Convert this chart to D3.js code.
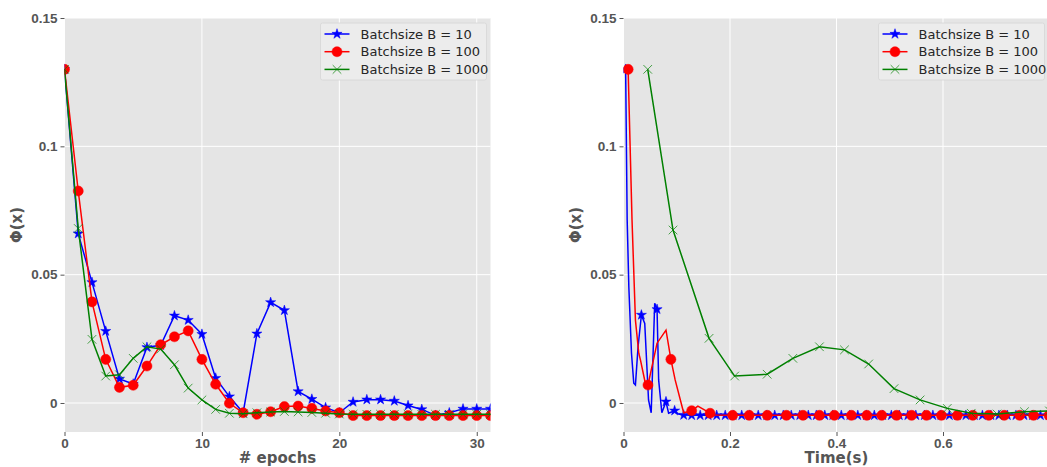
<!DOCTYPE html>
<html>
<head>
<meta charset="utf-8">
<script src="https://cdn.jsdelivr.net/npm/d3@7"></script>
<style>
  body { margin: 0; background: #fff; }
  svg { font-family: "DejaVu Sans", sans-serif; }
  .tick text { font-size: 13.5px; font-weight: bold; fill: #555; }
  .tick line { stroke: #555; }
</style>
</head>
<body>
<div id="chart"></div>
<script>
/*
 *  DATA
 */
var epochs = [0,1,2,3,4,5,6,7,8,9,10,11,12,13,14,15,16,17,18,19,20,21,22,23,24,25,26,27,28,29,30,31];
var epochB10 = [0.130, 0.066, 0.047, 0.028, 0.0094, 0.0074, 0.0217, 0.0225, 0.034, 0.0323, 0.0268, 0.0097,
    0.0025, -0.0038, 0.027, 0.0392, 0.0361, 0.0045, 0.0015, -0.0018, -0.0038, 0.0004, 0.0013, 0.0013,
    0.0008, -0.001, -0.0025, -0.0048, -0.0038, -0.0023, -0.0023, -0.0023];
var epochB100 = [0.130, 0.0826, 0.0394, 0.017, 0.0061, 0.0069, 0.0144, 0.0227, 0.0258, 0.0281, 0.017, 0.0073,
    -0.0001, -0.0038, -0.0044, -0.0034, -0.0014, -0.0012, -0.0021, -0.0031, -0.0038, -0.0049, -0.0049, -0.0049,
    -0.0049, -0.0049, -0.0049, -0.0049, -0.0049, -0.0049, -0.0049, -0.0049];
var epochB1000 = [0.130, 0.068, 0.0248, 0.0105, 0.011, 0.0174, 0.0219, 0.021, 0.0149, 0.0058, 0.0012, -0.0025,
    -0.004, -0.0042, -0.0038, -0.0035, -0.0033, -0.0035, -0.0037, -0.004, -0.0043, -0.0044, -0.0044, -0.0044,
    -0.0044, -0.0044, -0.0044, -0.0044, -0.0044, -0.0044, -0.0044, -0.0044];

// time plot: B = 10
var timeB10 = [0.004, 0.0069, 0.010, 0.015, 0.0193, 0.0224, 0.0274, 0.0336, 0.0399, 0.047, 0.052, 0.0586, 0.063,
    0.066, 0.072, 0.0798, 0.0847, 0.096, 0.103, 0.113, 0.128, 0.144, 0.159, 0.175, 0.191, 0.206, 0.222, 0.237,
    0.253, 0.269, 0.284, 0.300, 0.315, 0.331, 0.347, 0.362, 0.378, 0.393, 0.409, 0.425, 0.440, 0.456, 0.471,
    0.487, 0.503, 0.518, 0.534, 0.549, 0.565, 0.581, 0.596, 0.612, 0.627, 0.643, 0.659, 0.674, 0.690, 0.705,
    0.721, 0.737, 0.752, 0.768, 0.783, 0.799];
var valB10 = [0.130, 0.0713, 0.0453, 0.0194, 0.0077, 0.007, 0.022, 0.0343, 0.031, 0.0012, -0.0038, 0.0389, 0.0365,
    0.009, -0.0038, 0.0005, -0.004, -0.003, -0.0043, -0.0047, -0.0048, -0.0048, -0.0048, -0.0048, -0.0048,
    -0.0048, -0.0048, -0.0048, -0.0048, -0.0048, -0.0048, -0.0048, -0.0048, -0.0048, -0.0048, -0.0048, -0.0048,
    -0.0048, -0.0048, -0.0048, -0.0048, -0.0048, -0.0048, -0.0048, -0.0048, -0.0048, -0.0048, -0.0048, -0.0048,
    -0.0048, -0.0048, -0.0048, -0.0048, -0.0048, -0.0048, -0.0048, -0.0048, -0.0048, -0.0048, -0.0048, -0.0048,
    -0.0048, -0.0048, -0.0048];
var markB10 = [0, 7, 12, 15, 17, 19, 20, 21, 22, 23, 24, 25, 26, 27, 28, 29, 30, 31, 32, 33, 34, 35, 36, 37, 38,
    39, 40, 41, 42, 43, 44, 45, 46, 47, 48, 49, 50, 51, 52, 53, 54, 55, 56, 57, 58, 59, 60, 61, 62, 63];

// time plot: B = 100
var timeB100 = [0.0087, 0.016, 0.0224, 0.0287, 0.0318, 0.041, 0.046, 0.063, 0.0798, 0.089, 0.097, 0.113, 0.128,
    0.1396, 0.152, 0.1626, 0.172, 0.205, 0.236, 0.270, 0.306, 0.337, 0.368, 0.396, 0.428, 0.457, 0.485, 0.513,
    0.541, 0.569, 0.597, 0.627, 0.656, 0.686, 0.715, 0.744, 0.770, 0.799];
var valB100 = [0.130, 0.0713, 0.0323, 0.0194, 0.0168, 0.0077, 0.007, 0.0233, 0.0284, 0.017, 0.009, -0.0038, -0.003,
    -0.0012, -0.0027, -0.004, -0.0047, -0.0048, -0.0048, -0.0048, -0.0048, -0.0048, -0.0048, -0.0048, -0.0048,
    -0.0048, -0.0048, -0.0048, -0.0048, -0.0048, -0.0048, -0.0048, -0.0048, -0.0048, -0.0048, -0.0048, -0.0048,
    -0.0048];
var markB100 = [0, 6, 9, 12, 15, 17, 18, 19, 20, 21, 22, 23, 24, 25, 26, 27, 28, 29, 30, 31, 32, 33, 34, 35, 36, 37];

// time plot: B = 1000
var timeB1000 = [0.0455, 0.093, 0.1607, 0.2087, 0.2698, 0.318, 0.368, 0.415, 0.4604, 0.508, 0.557, 0.608, 0.653,
    0.7015, 0.753, 0.80];
var valB1000 = [0.130, 0.0674, 0.0252, 0.0105, 0.0112, 0.0174, 0.0219, 0.0207, 0.0152, 0.0056, 0.0012, -0.0021,
    -0.004, -0.0043, -0.0034, -0.0031];

var yTicks = [0, 0.05, 0.1, 0.15];
var yTickLabels = ["0", "0.05", "0.1", "0.15"];
var epochTicks = [0, 10, 20, 30];
var timeTicks = [0, 0.2, 0.4, 0.6];
var timeTickLabels = ["0", "0.2", "0.4", "0.6"];
var legendLabels = ["Batchsize B = 10", "Batchsize B = 100", "Batchsize B = 1000"];
var colors = ["#0000ff", "#ff0000", "#008000"];

/*
 *  LAYOUT
 */
var svg = d3.select("#chart").append("svg")
    .attr("width", 1047)
    .attr("height", 467);

var plotTop = 18, plotBottom = 432, plotW = 426;

var y_scale = d3.scaleLinear()
    .domain([-0.0113, 0.15])
    .range([plotBottom, plotTop]);

var symbols = [d3.symbolStar, d3.symbolCircle, d3.symbolX];
var symSize = [32, 80, 50];

function drawMarker(g, k, x, y) {
    var p = g.append("path")
        .attr("d", d3.symbol().type(symbols[k]).size(symSize[k])())
        .attr("transform", "translate(" + x + "," + y + ")");
    if (k == 2) {
        p.attr("fill", "none").attr("stroke", colors[k]).attr("stroke-width", 1).attr("stroke-opacity", 0.7);
    } else {
        p.attr("fill", colors[k]).attr("stroke", colors[k]).attr("stroke-width", 0.5);
    }
}

function panel(id, left, x_scale, xTicks, xLabels, xTitle, series, legendX) {
    var g = svg.append("g").attr("transform", "translate(" + left + ",0)");

    g.append("rect")
        .attr("x", 0).attr("y", plotTop)
        .attr("width", plotW).attr("height", plotBottom - plotTop)
        .attr("fill", "#e5e5e5");

    g.append("clipPath").attr("id", "clip" + id)
        .append("rect")
        .attr("x", 0).attr("y", plotTop)
        .attr("width", plotW).attr("height", plotBottom - plotTop);

    // grid
    g.selectAll(".vgrid").data(xTicks).enter().append("line")
        .attr("x1", function(d) { return x_scale(d); })
        .attr("x2", function(d) { return x_scale(d); })
        .attr("y1", plotTop).attr("y2", plotBottom)
        .attr("stroke", "#fff").attr("stroke-width", 1);
    g.selectAll(".hgrid").data(yTicks).enter().append("line")
        .attr("x1", 0).attr("x2", plotW)
        .attr("y1", function(d) { return y_scale(d); })
        .attr("y2", function(d) { return y_scale(d); })
        .attr("stroke", "#fff").attr("stroke-width", 1);

    // axes
    g.append("g")
        .attr("transform", "translate(0," + plotBottom + ")")
        .call(d3.axisBottom(x_scale).tickValues(xTicks).tickSize(4).tickPadding(2)
            .tickFormat(function(d, i) { return xLabels[i]; }))
        .call(function(a) { a.select(".domain").remove(); });
    g.append("g")
        .call(d3.axisLeft(y_scale).tickValues(yTicks).tickSize(4).tickPadding(3)
            .tickFormat(function(d, i) { return yTickLabels[i]; }))
        .call(function(a) { a.select(".domain").remove(); });

    g.append("text")
        .attr("x", plotW / 2).attr("y", 463)
        .attr("text-anchor", "middle")
        .style("font-size", "15px").style("font-weight", "bold").style("fill", "#555")
        .text(xTitle);
    g.append("text")
        .attr("transform", "translate(" + (-43) + "," + ((plotTop + plotBottom) / 2) + ")rotate(-90)")
        .attr("text-anchor", "middle")
        .style("font-size", "15px").style("font-weight", "bold").style("fill", "#555")
        .text("Φ(x)");

    // lines and markers
    var data_g = g.append("g").attr("clip-path", "url(#clip" + id + ")");
    series.forEach(function(s, k) {
        var pts = s.x.map(function(d, i) { return [x_scale(d), y_scale(s.y[i])]; });
        data_g.append("path")
            .attr("d", d3.line()(pts))
            .attr("fill", "none")
            .attr("stroke", colors[k])
            .attr("stroke-width", 1.5);
        var idx = s.mark ? s.mark : pts.map(function(d, i) { return i; });
        idx.forEach(function(i) { drawMarker(data_g, k, pts[i][0], pts[i][1]); });
    });

    // legend
    var lg = g.append("g").attr("transform", "translate(" + legendX + ",23)");
    lg.append("rect")
        .attr("width", 166).attr("height", 57).attr("rx", 2)
        .attr("fill", "#ececec").attr("stroke", "#d6d6d6").attr("stroke-width", 0.8);
    legendLabels.forEach(function(lab, k) {
        var yy = 11 + k * 17.7;
        lg.append("line")
            .attr("x1", 4).attr("x2", 29).attr("y1", yy).attr("y2", yy)
            .attr("stroke", colors[k]).attr("stroke-width", 1.5);
        drawMarker(lg, k, 16.5, yy);
        lg.append("text")
            .attr("x", 40).attr("y", yy + 4.5)
            .style("font-size", "13px").style("fill", "#262626")
            .text(lab);
    });
}

var x_epoch = d3.scaleLinear().domain([0, 31]).range([0, plotW]);
var x_time = d3.scaleLinear().domain([0, 0.8]).range([0, plotW]);

panel("L", 64.5, x_epoch, epochTicks, ["0", "10", "20", "30"], "# epochs", [
    {x: epochs, y: epochB10},
    {x: epochs, y: epochB100},
    {x: epochs, y: epochB1000}
], 256);

panel("R", 623.5, x_time, timeTicks, timeTickLabels, "Time(s)", [
    {x: timeB10, y: valB10, mark: markB10},
    {x: timeB100, y: valB100, mark: markB100},
    {x: timeB1000, y: valB1000}
], 255);
</script>
</body>
</html>
